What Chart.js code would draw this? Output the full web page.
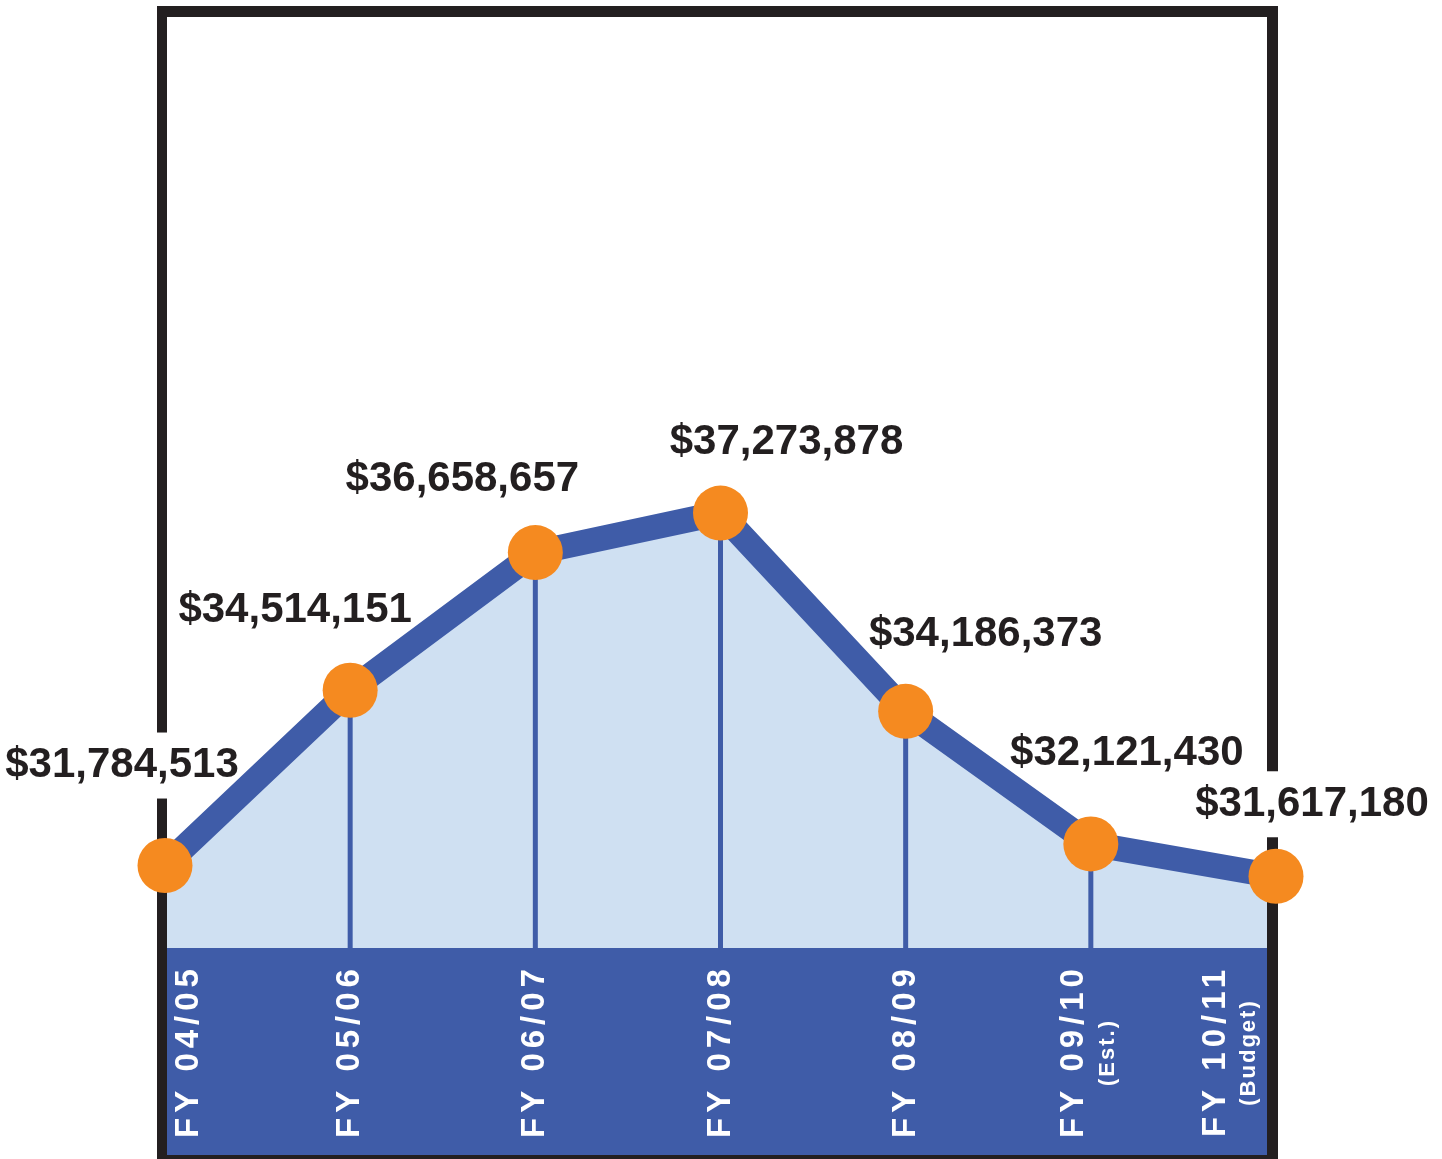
<!DOCTYPE html>
<html>
<head>
<meta charset="utf-8">
<script src="https://cdn.jsdelivr.net/npm/chart.js@4.4.1/dist/chart.umd.min.js"></script>
<style>
  html, body { margin: 0; padding: 0; background: #fff; }
  #wrap { width: 1442px; height: 1159px; position: relative; }
</style>
</head>
<body>
<div id="wrap"><canvas id="budgetChart"></canvas></div>
<script>
// ── DATA ────────────────────────────────────────────────────────────────────
const categories = ['FY 04/05', 'FY 05/06', 'FY 06/07', 'FY 07/08', 'FY 08/09', 'FY 09/10', 'FY 10/11'];
const subLabels = ['', '', '', '', '', '(Est.)', '(Budget)'];
const budgetValues = [31784513, 34514151, 36658657, 37273878, 34186373, 32121430, 31617180];
const yMin = 30500000;
const yMax = 45000000;

// ── STYLE ───────────────────────────────────────────────────────────────────
const BLUE = '#3f5ca8';
const LIGHT = '#cfe0f2';
const ORANGE = '#f58a20';
const INK = '#231f20';
// value label offsets from each point (px)
const labelOffsets = [[-43, -100], [-55, -80], [-73, -73], [66, -71], [80, -77], [36, -90], [36, -72]];

const money = v => '$' + v.toLocaleString('en-US');

function valueBoxes(chart) {
  const ctx = chart.ctx;
  const meta = chart.getDatasetMeta(0);
  ctx.save();
  ctx.font = 'bold 42px "Liberation Sans", Arial, sans-serif';
  const boxes = meta.data.map((pt, i) => {
    const w = ctx.measureText(money(budgetValues[i])).width;
    return { x: pt.x + labelOffsets[i][0], y: pt.y + labelOffsets[i][1], w };
  });
  ctx.restore();
  return boxes;
}

const framePlugin = {
  id: 'frame',
  beforeDatasetDraw(chart) {
    const { ctx, chartArea: ca, height } = chart;
    const L = ca.left, R = ca.right;
    ctx.save();
    // blue band under the plot
    ctx.fillStyle = BLUE;
    ctx.fillRect(L + 2, ca.bottom, (R - 9) - (L + 2), height - 4 - ca.bottom);
    // black frame
    ctx.fillStyle = INK;
    ctx.fillRect(L - 8, ca.top - 11, (R + 2) - (L - 8), 11);
    ctx.fillRect(L - 8, ca.top - 11, 10, height);
    ctx.fillRect(R - 9, ca.top - 11, 11, height);
    ctx.fillRect(L - 8, height - 4, (R + 2) - (L - 8), 4);
    // white gaps behind the value labels
    ctx.fillStyle = '#fff';
    valueBoxes(chart).forEach(b => {
      ctx.fillRect(b.x - b.w / 2 - 8, b.y - 33, b.w + 16, 66);
    });
    // drop lines
    const meta = chart.getDatasetMeta(0);
    ctx.strokeStyle = BLUE;
    ctx.lineWidth = 5;
    meta.data.forEach((pt, i) => {
      if (i === 0 || i === meta.data.length - 1) return;
      ctx.beginPath();
      ctx.moveTo(pt.x, pt.y);
      ctx.lineTo(pt.x, ca.bottom);
      ctx.stroke();
    });
    ctx.restore();
  },
  afterDatasetsDraw(chart) {
    const { ctx, chartArea: ca, height } = chart;
    const meta = chart.getDatasetMeta(0);
    ctx.save();
    // value labels
    ctx.fillStyle = INK;
    ctx.font = 'bold 42px "Liberation Sans", Arial, sans-serif';
    ctx.textAlign = 'center';
    ctx.textBaseline = 'middle';
    valueBoxes(chart).forEach((b, i) => {
      ctx.fillText(money(budgetValues[i]), b.x, b.y);
    });
    // category labels in the band, rotated
    ctx.fillStyle = '#fff';
    const midY = (ca.bottom + height - 4) / 2 + 2;
    meta.data.forEach((pt, i) => {
      const sub = subLabels[i];
      const half = sub ? 27 : 12;
      let cx = pt.x;
      cx = Math.max(cx, ca.left + 12 + half);
      cx = Math.min(cx, ca.right - 17 - half);
      ctx.save();
      ctx.translate(cx, midY);
      ctx.rotate(-Math.PI / 2);
      ctx.font = 'bold 33px "Liberation Sans", Arial, sans-serif';
      ctx.letterSpacing = '5px';
      ctx.fillText(categories[i], 2.5, sub ? -16.5 : 0);
      if (sub) {
        ctx.font = 'bold 22px "Liberation Sans", Arial, sans-serif';
        ctx.letterSpacing = '2px';
        ctx.fillText(sub, 1, 17);
      }
      ctx.restore();
    });
    ctx.restore();
  }
};

new Chart(document.getElementById('budgetChart'), {
  type: 'line',
  data: {
    labels: categories,
    datasets: [{
      data: budgetValues,
      borderColor: BLUE,
      borderWidth: 25,
      backgroundColor: LIGHT,
      fill: 'start',
      tension: 0,
      pointRadius: 27.5,
      pointBackgroundColor: ORANGE,
      pointBorderWidth: 0,
      pointHoverRadius: 27.5,
      clip: false
    }]
  },
  options: {
    responsive: true,
    maintainAspectRatio: false,
    animation: false,
    layout: { autoPadding: false, padding: { left: 165, right: 166, top: 17, bottom: 211 } },
    plugins: {
      legend: { display: false },
      tooltip: { enabled: false },
      filler: { drawTime: 'beforeDatasetsDraw' }
    },
    scales: {
      x: { display: false, offset: false },
      y: { display: false, min: yMin, max: yMax }
    }
  },
  plugins: [framePlugin]
});
</script>
</body>
</html>
